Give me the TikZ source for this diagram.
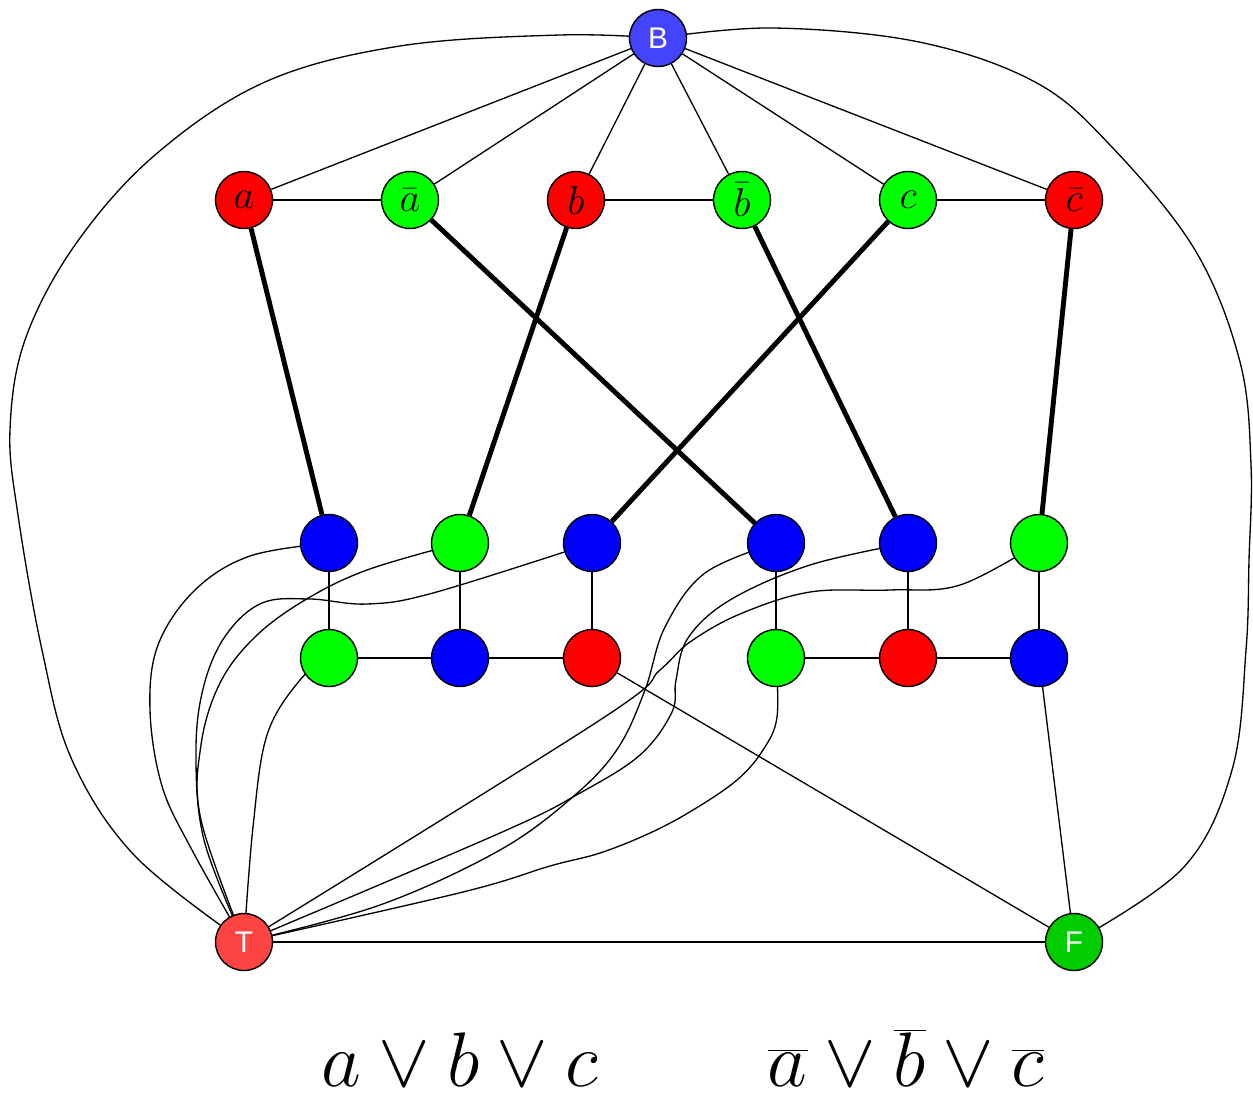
\RequirePackage{fix-cm}
\documentclass[tikz,border=0pt]{standalone}
\usepackage{fontspec}
\newfontfamily\lsans{Liberation Sans}
\definecolor{nred}{HTML}{FF0000}
\definecolor{ngreen}{HTML}{00FF00}
\definecolor{nblue}{HTML}{0000FF}
\definecolor{bblue}{HTML}{4444FF}
\definecolor{tred}{HTML}{FF4444}
\definecolor{fgreen}{HTML}{00CC00}
\pgfdeclarelayer{bg}
\pgfsetlayers{bg,main}
\begin{document}
\begin{tikzpicture}[x=0.02cm,y=-0.02cm,
  vtx/.style={circle,draw=black,line width=0.8pt,minimum size=1.14cm,inner sep=0pt,font=\fontsize{23}{23}\selectfont},
  rv/.style={vtx,fill=nred},
  gv/.style={vtx,fill=ngreen},
  bv/.style={vtx,fill=nblue},
  sv/.style={vtx,text=white,font=\lsans\fontsize{17}{17}\selectfont},
  edge/.style={line width=0.75pt},
  thickedge/.style={line width=2.8pt},
  curve/.style={line width=0.75pt,smooth,tension=0.6},
  clause/.style={anchor=base,inner sep=0pt,font=\fontsize{44}{44}\selectfont}]
\useasboundingbox (0,0) rectangle (1253,1095);
% nodes
\node[sv,fill=bblue] (B) at (658,38) {B};
\node[rv] (a) at (244,200) {$a$};
\node[gv] (na) at (410,200) {$\bar a$};
\node[rv] (b) at (576,200) {$b$};
\node[gv] (nb) at (742,200) {$\bar b$};
\node[gv] (c) at (908,200) {$c$};
\node[rv] (nc) at (1074,200) {$\bar c$};
\node[bv] (m1) at (329,543) {};
\node[gv] (m2) at (460,543) {};
\node[bv] (m3) at (592,543) {};
\node[bv] (m4) at (776,543) {};
\node[bv] (m5) at (908,543) {};
\node[gv] (m6) at (1039,543) {};
\node[gv] (b1) at (329,658) {};
\node[bv] (b2) at (460,658) {};
\node[rv] (b3) at (592,658) {};
\node[gv] (b4) at (776,658) {};
\node[rv] (b5) at (908,658) {};
\node[bv] (b6) at (1039,658) {};
\node[sv,fill=tred] (T) at (244,942) {T};
\node[sv,fill=fgreen] (F) at (1074,942) {F};
\node[clause] (cl1) at (460,1086) {$a\vee b\vee c$};
\node[clause] (cl2) at (906,1086) {$\overline{a}\vee \overline{b}\vee \overline{c}$};
% edges
\begin{pgfonlayer}{bg}
\foreach \n in {a,na,b,nb,c,nc} \draw[edge] (B) -- (\n);
\draw[edge] (a) -- (na);
\draw[edge] (b) -- (nb);
\draw[edge] (c) -- (nc);
\draw[thickedge] (a) -- (m1);
\draw[thickedge] (na) -- (m4);
\draw[thickedge] (b) -- (m2);
\draw[thickedge] (nb) -- (m5);
\draw[thickedge] (c) -- (m3);
\draw[thickedge] (nc) -- (m6);
\foreach \i in {1,...,6} \draw[edge] (m\i) -- (b\i);
\draw[edge] (b1) -- (b2) -- (b3);
\draw[edge] (b4) -- (b5) -- (b6);
\draw[edge] (b3) -- (F);
\draw[edge] (b6) -- (F);
\draw[edge] (T) -- (F);
% big loops
\draw[curve] plot coordinates {(B) (560,35) (400,46) (265,82) (155,155) (75,245) (25,340) (10,430) (18,515) (42,650) (72,760) (135,856) (T)};
\draw[curve] plot coordinates {(B) (773,28) (919,42) (1035,82) (1110,145) (1195,250) (1240,362) (1251,465) (1249,560) (1246,650) (1232,770) (1183,868) (F)};
% curves to T
\draw[curve] plot coordinates {(m1) (250,556) (195,590) (158,645) (150,710) (162,786) (192,850) (T)};
\draw[curve] plot coordinates {(m2) (367,570) (305,600) (255,637) (220,683) (201,745) (201,820) (T)};
\draw[curve] plot coordinates {(m3) (433,593) (367,604) (310,599) (262,603) (226,635) (204,685) (196,750) (204,840) (T)};
\draw[curve] plot coordinates {(b1) (300,680) (267,735) (253,827) (T)};
\draw[curve] plot coordinates {(m4) (705,573) (665,627) (645,690) (618,748) (575,795) (500,850) (380,905) (T)};
\draw[curve] plot coordinates {(m5) (810,565) (730,600) (688,638) (676,680) (672,712) (640,755) (580,793) (500,833) (T)};
\draw[curve] plot coordinates {(m6) (960,585) (890,590) (810,592) (740,614) (690,642) (660,670) (600,720) (T)};
\draw[curve] plot coordinates {(b4) (777,717) (763,750) (737,780) (693,810) (650,833) (600,853) (550,866) (463,892) (T)};
\end{pgfonlayer}
\end{tikzpicture}
\end{document}
